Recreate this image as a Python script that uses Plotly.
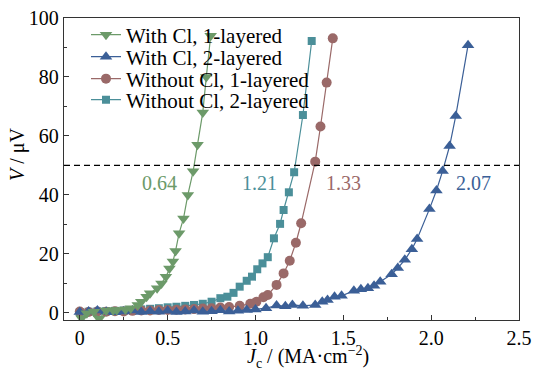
import plotly.graph_objects as go

# ---------------- data ----------------
green_x = [0.01, 0.04, 0.08, 0.11, 0.15, 0.19, 0.21, 0.26, 0.29, 0.33, 0.35, 0.38, 0.40, 0.44,
           0.465, 0.49, 0.51, 0.53, 0.545, 0.565, 0.59, 0.615, 0.645, 0.67, 0.70, 0.72, 0.745]
green_y = [-1.8, -0.1, 0.4, -2.0, 0.8, 0.9, 1.0, 1.2, 1.6, 2.7, 3.8, 5.5, 6.7, 8.4,
           10, 12.3, 15.1, 17.4, 21, 27, 32, 40, 48, 57, 68, 80, 94]

blue_x = [0.0, 0.05, 0.1, 0.15, 0.2, 0.25, 0.3, 0.35, 0.4, 0.45, 0.5, 0.55, 0.6, 0.65, 0.7, 0.75,
          0.8, 0.85, 0.9, 0.95, 1.0, 1.06, 1.12, 1.17, 1.21, 1.27, 1.34, 1.38, 1.41, 1.45, 1.49,
          1.56, 1.6, 1.64, 1.675, 1.71, 1.775, 1.81, 1.85, 1.89, 1.92, 1.99, 2.03, 2.065, 2.105,
          2.14, 2.21]
blue_y = [0.3, 0.5, 0.8, 0.4, 0.2, 0.5, 0.8, 0.3, 0.6, 0.4, 0.7, 0.3, 0.5, 0.8, 0.4, 0.6,
          0.9, 0.5, 0.7, 1.0, 1.2, 1.6, 2.5, 2.3, 2.7, 2.4, 2.7, 3.8, 4.4, 5.5, 5.8,
          7.5, 8.0, 8.4, 9.2, 10.6, 13.1, 15.2, 18, 21.6, 25.1, 35.2, 41.5, 48.1, 56.6,
          66.8, 90.8]

brown_x = [0.0, 0.05, 0.1, 0.15, 0.2, 0.25, 0.3, 0.35, 0.4, 0.45, 0.5, 0.55, 0.6, 0.65, 0.7, 0.75,
           0.8, 0.85, 0.91, 0.97, 1.005, 1.045, 1.07, 1.12, 1.16, 1.195, 1.23, 1.26, 1.34, 1.37,
           1.405, 1.44]
brown_y = [0.5, 0.3, 0.5, 0.4, 0.6, 0.5, 0.7, 0.8, 0.8, 1.0, 1.0, 1.1, 1.2, 1.3, 1.5, 1.6,
           1.8, 2.0, 2.4, 3.1, 3.8, 5.3, 6.1, 9.5, 13.4, 17.7, 23.8, 30.4, 51.3, 63.2,
           78.1, 93.1]

teal_x = [0.0, 0.05, 0.1, 0.15, 0.2, 0.25, 0.3, 0.35, 0.4, 0.45, 0.5, 0.55, 0.6, 0.65, 0.7, 0.75,
          0.80, 0.84, 0.875, 0.91, 0.95, 0.98, 1.01, 1.04, 1.07, 1.105, 1.14, 1.16, 1.19, 1.22,
          1.27, 1.32]
teal_y = [0.3, 0.4, 0.5, 0.6, 0.7, 0.8, 1.0, 1.2, 1.4, 1.6, 1.9, 2.1, 2.4, 2.7, 3.1, 3.8,
          5.0, 5.5, 6.8, 8.9, 10.9, 12.3, 14.8, 16.8, 18.9, 25.3, 30.2, 34.9, 40.9, 47.7,
          67.1, 92.2]

series_names = ["With Cl, 1-layered", "With Cl, 2-layered",
                "Without Cl, 1-layered", "Without Cl, 2-layered"]
critical_values = ["0.64", "1.21", "1.33", "2.07"]
critical_label_x = [0.455, 1.025, 1.50, 2.24]
critical_label_y = [44, 44, 44, 44]
threshold = 50

x_tickvals = [0, 0.5, 1.0, 1.5, 2.0, 2.5]
x_ticktext = ["0", "0.5", "1.0", "1.5", "2.0", "2.5"]
y_tickvals = [0, 20, 40, 60, 80, 100]
y_ticktext = ["0", "20", "40", "60", "80", "100"]
x_title = "<i>J</i><sub>c</sub> / (MA·cm<sup>−2</sup>)"
y_title = "<i>V</i> / μV"

# ---------------- style ----------------
GREEN = "#6c9a69"
BLUE = "#3b5f97"
BROWN = "#9a6968"
TEAL = "#4b8f99"
FONT = "Liberation Serif, Times New Roman, DejaVu Serif, serif"

fig = go.Figure()

def add(x, y, name, color, symbol, size, legend):
    fig.add_trace(go.Scatter(
        x=x, y=y, name=name, mode="lines+markers",
        line=dict(color=color, width=1.2),
        marker=dict(color=color, symbol=symbol, size=size),
        legend=legend,
    ))

add(teal_x, teal_y, series_names[3], TEAL, "square", 8, "legend4")
add(brown_x, brown_y, series_names[2], BROWN, "circle", 10, "legend3")
add(blue_x, blue_y, series_names[1], BLUE, "triangle-up", 11, "legend2")
add(green_x, green_y, series_names[0], GREEN, "triangle-down", 11, "legend")

fig.add_shape(type="line", xref="paper", yref="y", x0=0, x1=1, y0=threshold, y1=threshold,
              line=dict(color="black", width=1.3, dash="6px,4px"))

label_colors = [GREEN, TEAL, BROWN, BLUE]
for t, xx, yy, c in zip(critical_values, critical_label_x, critical_label_y, label_colors):
    fig.add_annotation(x=xx, y=yy, text=t, showarrow=False,
                       font=dict(family=FONT, size=20, color=c))

# plot area: left 64, right 519, top 18, bottom 320
L, R, T, B = 64, 15, 18, 52
W, H = 534, 372
pw, ph = W - L - R, H - T - B

# axis titles as annotations for exact placement
fig.add_annotation(xref="paper", yref="paper", x=(308 - L) / pw, y=(H - B - 357) / ph,
                   text=x_title, showarrow=False, xanchor="center", yanchor="middle",
                   font=dict(family=FONT, size=20, color="black"))
fig.add_annotation(xref="paper", yref="paper", x=(17 - L) / pw, y=(H - B - 155) / ph,
                   text=y_title, showarrow=False, xanchor="center", yanchor="middle",
                   textangle=-90, font=dict(family=FONT, size=20, color="black"))

row_centers = [35, 57, 79, 100]
legend_left_px = 86

legend_defs = {}
for i, rc in enumerate(row_centers):
    key = "legend" if i == 0 else f"legend{i+1}"
    legend_defs[key] = dict(
        x=(legend_left_px - L) / pw, y=(H - B - rc) / ph,
        xanchor="left", yanchor="middle",
        bgcolor="rgba(0,0,0,0)", borderwidth=0,
        font=dict(family=FONT, size=21, color="black"),
    )

axis_common = dict(
    showline=True, linecolor="#333333", linewidth=1.3, mirror=True,
    ticks="inside", ticklen=5, tickcolor="#333333", tickwidth=1.2,
    showgrid=False, zeroline=False, automargin=False,
    tickfont=dict(family=FONT, size=20, color="black"),
)

fig.update_layout(
    width=W, height=H,
    margin=dict(l=L, r=R, t=T, b=B, autoexpand=False),
    paper_bgcolor="white", plot_bgcolor="white",
    showlegend=True,
    xaxis=dict(range=[-0.09, 2.5], tickvals=x_tickvals, ticktext=x_ticktext,
               minor=dict(dtick=0.25, tick0=0, ticks="inside", ticklen=3, tickcolor="#333333"),
               **axis_common),
    yaxis=dict(range=[-2.4, 100], tickvals=y_tickvals, ticktext=y_ticktext,
               minor=dict(dtick=10, tick0=0, ticks="inside", ticklen=3, tickcolor="#333333"),
               **axis_common),
    **legend_defs,
)

fig.write_html("out.html", config={"displayModeBar": False},
               post_script="document.body.style.margin='0';document.body.style.overflow='hidden';")
